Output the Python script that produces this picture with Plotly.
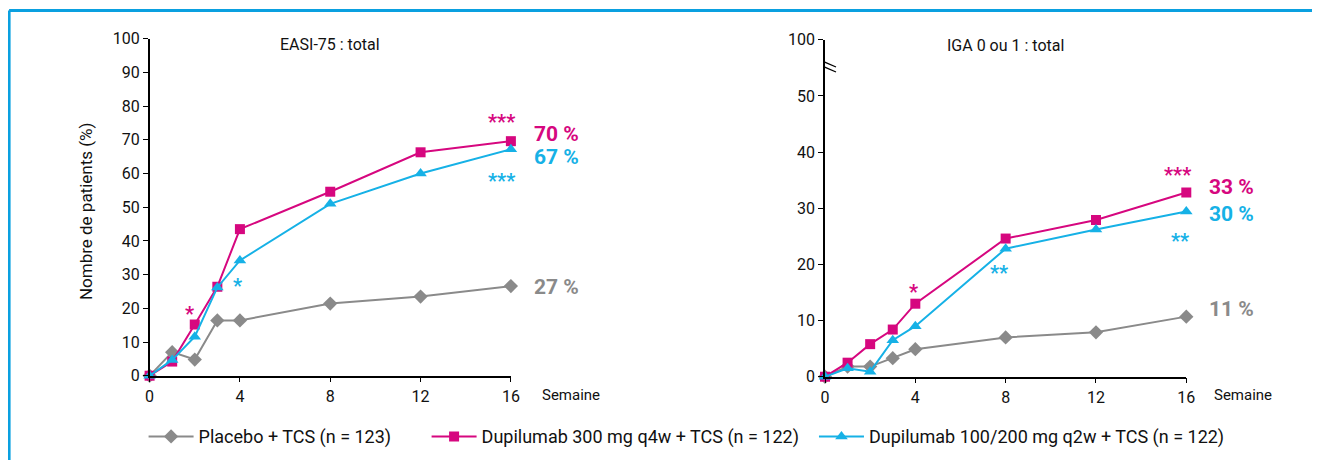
import plotly.graph_objects as go

weeks = [0, 1, 2, 3, 4, 8, 12, 16]

# EASI-75 (left)
easi_placebo = [0, 7.0, 4.8, 16.4, 16.4, 21.4, 23.5, 26.6]
easi_300q4w = [0, 4.2, 15.2, 26.4, 43.5, 54.6, 66.3, 69.6]
easi_q2w = [0, 4.7, 11.6, 26.2, 34.2, 51.0, 60.0, 67.2]

# IGA 0 ou 1 (right)
iga_placebo = [0, 1.8, 1.8, 3.3, 4.9, 7.0, 7.9, 10.7]
iga_300q4w = [0, 2.5, 5.8, 8.4, 13.0, 24.6, 27.9, 32.8]
iga_q2w = [0, 1.5, 0.9, 6.5, 9.0, 22.8, 26.2, 29.4]

names = ["Placebo + TCS (n = 123)", "Dupilumab 300 mg q4w + TCS (n = 122)",
         "Dupilumab 100/200 mg q2w + TCS (n = 122)"]
colors = ["#8a8a8a", "#d6077f", "#16b1e6"]
symbols = ["diamond", "square", "triangle-up"]
sizes = [11, 10, 11]

x_ticks = [0, 4, 8, 12, 16]
left_yticks = [0, 10, 20, 30, 40, 50, 60, 70, 80, 90, 100]
right_yticks = [0, 10, 20, 30, 40, 50, 60]
right_yticktext = ["0", "10", "20", "30", "40", "50", "100"]

end_labels_left = [("27 %", 26.4), ("70 %", 71.6), ("67 %", 64.8)]
end_labels_right = [("11 %", 12.1), ("33 %", 33.8), ("30 %", 29.0)]

FONT = "Roboto"

# page has an 8px body margin: figure is sized so the page is 1320x468
M = 8
W, H = 1320 - 2 * M, 468 - 2 * M

def cx(t):  # target picture x -> layout x
    return (t - 5) / 0.9865
def cy(t):  # target picture y -> layout y
    return (t - 8.6) / 0.958
def px(t):
    return (cx(t) - M) / W
def py(t):
    return 1 - (cy(t) - M) / H

legend_ids = ["legend", "legend2", "legend3"]
legend_x = [144, 426, 812]

fig = go.Figure()
for i, ys in enumerate([easi_placebo, easi_300q4w, easi_q2w]):
    fig.add_trace(go.Scatter(x=weeks, y=ys, mode="lines+markers", name=names[i],
                             line=dict(color=colors[i], width=2),
                             marker=dict(symbol=symbols[i], size=sizes[i], color=colors[i]),
                             xaxis="x", yaxis="y", cliponaxis=False, showlegend=True,
                             legend=legend_ids[i]))
for i, ys in enumerate([iga_placebo, iga_300q4w, iga_q2w]):
    fig.add_trace(go.Scatter(x=weeks, y=ys, mode="lines+markers", name=names[i],
                             line=dict(color=colors[i], width=2),
                             marker=dict(symbol=symbols[i], size=sizes[i], color=colors[i]),
                             xaxis="x2", yaxis="y2", cliponaxis=False, showlegend=False))

axis_common = dict(showline=True, linecolor="black", linewidth=1.5, ticks="outside",
                   ticklen=5, tickcolor="black", showgrid=False, zeroline=False,
                   tickfont=dict(family=FONT, size=16, color="#111"))

legend_common = dict(orientation="h", xanchor="left", yanchor="middle",
                     font=dict(family=FONT, size=18, color="#111"), itemwidth=45,
                     bgcolor="rgba(0,0,0,0)")

fig.update_layout(
    width=W, height=H, margin=dict(l=0, r=0, t=0, b=0),
    paper_bgcolor="white", plot_bgcolor="white",
    font=dict(family=FONT, size=14, color="#111"),
    xaxis=dict(domain=[px(150), px(510)], range=[0, 16], tickvals=x_ticks, anchor="y", **axis_common),
    yaxis=dict(domain=[py(375), py(38)], range=[0, 100], tickvals=left_yticks, anchor="x", **axis_common),
    xaxis2=dict(domain=[px(823), px(1183)], range=[0, 16], tickvals=x_ticks, anchor="y2", **axis_common),
    yaxis2=dict(domain=[py(376), py(39)], range=[0, 60], tickvals=right_yticks,
                ticktext=right_yticktext, anchor="x2", **axis_common),
    legend=dict(x=px(legend_x[0]), y=py(436), **legend_common),
    legend2=dict(x=px(legend_x[1]), y=py(436), **legend_common),
    legend3=dict(x=px(legend_x[2]), y=py(436), **legend_common),
)

def center_ann(**kw):
    d = dict(showarrow=False, xanchor="center", yanchor="middle")
    d.update(kw)
    return d

ann = []
ann.append(center_ann(text="EASI-75 : total", x=0.5, xref="x domain", y=py(44), yref="paper",
                      font=dict(size=16, color="#111")))
ann.append(center_ann(text="IGA 0 ou 1 : total", x=0.5, xref="x2 domain", y=py(45), yref="paper",
                      font=dict(size=16, color="#111")))
ann.append(center_ann(text="Nombre de patients (%)", x=px(86), y=py(210), xref="paper", yref="paper",
                      textangle=-90, font=dict(size=17, color="#111")))
ann.append(center_ann(text="Semaine", x=px(570), y=py(394), xref="paper", yref="paper",
                      font=dict(size=15, color="#111")))
ann.append(center_ann(text="Semaine", x=px(1240), y=py(394), xref="paper", yref="paper",
                      font=dict(size=15, color="#111")))

for (t, yv), c in zip(end_labels_left, colors):
    ann.append(dict(text="<b>%s</b>" % t, x=16, y=yv, xref="x", yref="y", xanchor="left",
                    yanchor="middle", xshift=21, showarrow=False, font=dict(size=21, color=c)))
for (t, yv), c in zip(end_labels_right, colors):
    ann.append(dict(text="<b>%s</b>" % t, x=16, y=yv, xref="x2", yref="y2", xanchor="left",
                    yanchor="middle", xshift=21, showarrow=False, font=dict(size=21, color=c)))

# significance stars (text, x, y, axes, color)
stars = [
    ("*", 1.78, 18.4, "x", "y", colors[1]),
    ("*", 3.9, 26.5, "x", "y", colors[2]),
    ("***", 15.6, 75.2, "x", "y", colors[1]),
    ("***", 15.6, 57.8, "x", "y", colors[2]),
    ("*", 3.94, 15.0, "x2", "y2", colors[1]),
    ("**", 7.7, 18.5, "x2", "y2", colors[2]),
    ("***", 15.6, 36.0, "x2", "y2", colors[1]),
    ("**", 15.7, 24.2, "x2", "y2", colors[2]),
]
for t, xv, yv, xr, yr, c in stars:
    ann.append(center_ann(text="<b>%s</b>" % t, x=xv, y=yv, xref=xr, yref=yr,
                          font=dict(size=20, color=c)))

fig.update_layout(annotations=ann)

# axis break marks on right y-axis
for dy in [0, -5]:
    fig.add_shape(type="line", xref="x2", yref="y2", xsizemode="pixel", ysizemode="pixel",
                  xanchor=0, yanchor=55.5, x0=-10, x1=11, y0=7 + dy, y1=-2 + dy,
                  line=dict(color="black", width=1.3))

# blue frame (top and left edges only; it runs past the picture on the right and bottom)
fx, fy = px(10), py(9.7)
frame = dict(color="#0aa0e0", width=3)
fig.add_shape(type="line", xref="paper", yref="paper", x0=fx, x1=1.05, y0=fy, y1=fy, line=frame)
fig.add_shape(type="line", xref="paper", yref="paper", x0=fx, x1=fx, y0=fy, y1=-0.05, line=frame)

fig.write_html("out.html", config={"displayModeBar": False})
